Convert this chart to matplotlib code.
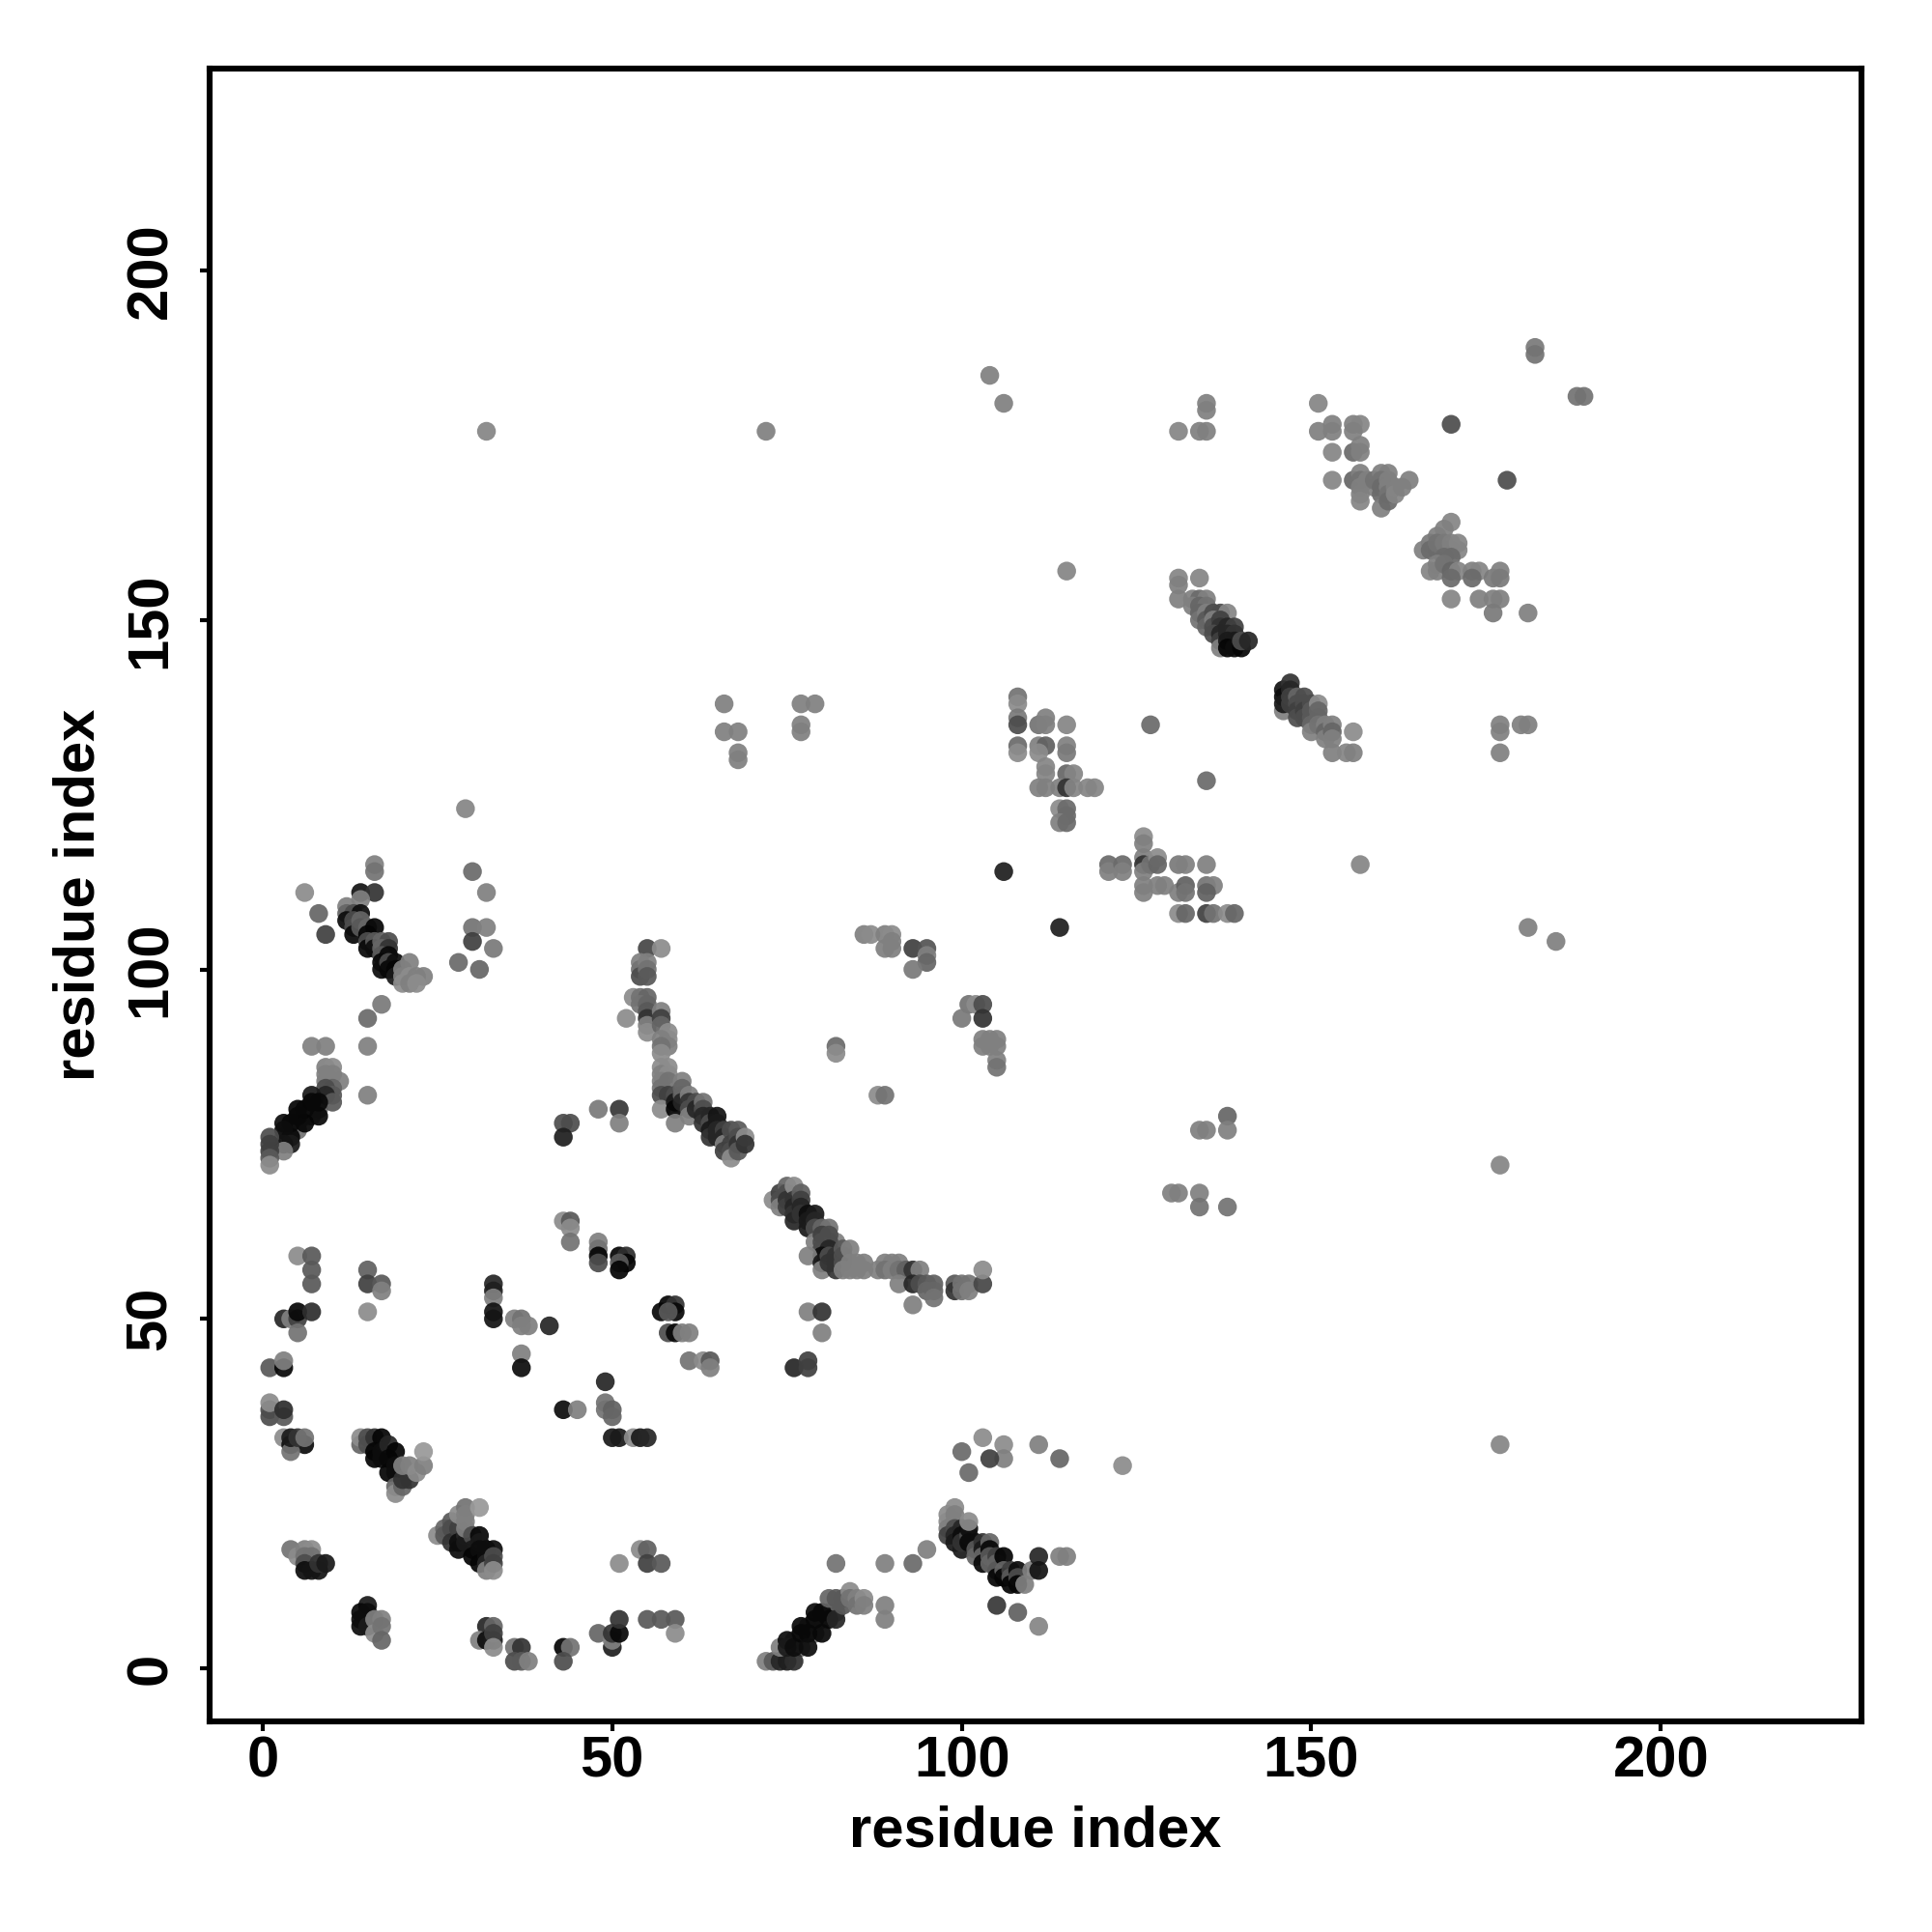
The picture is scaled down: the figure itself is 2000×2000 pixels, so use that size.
import matplotlib
matplotlib.use("Agg")
import matplotlib.pyplot as plt

plt.rcParams['font.family'] = ['Liberation Sans', 'DejaVu Sans']

# contacts: (residue x, residue y, grey level in %)
left_edge = [
    (5,59,55),(7,59,35),(7,57,35),(7,55,35),(3,50,15),(4,50,50),(5,50,25),(5,48,45),(5,51,3),(7,51,18),
    (1,43,35),(3,43,3),(3,44,50),(1,36,30),(1,37,30),(1,38,55),(3,36,35),(3,37,18),
    (3,33,55),(4,32,5),(6,32,5),(4,31,45),(4,33,10),(5,33,20),(6,33,45),
]
low_blob_a = [
    (14,32,40),(14,33,55),(15,33,30),(15,32,30),(16,33,20),(17,33,2),(16,31,2),(16,30,2),(17,31,5),(17,30,5),
    (18,32,15),(18,30,3),(18,28,2),(19,31,2),(19,29,5),(19,28,5),(19,26,40),(19,25,55),(20,26,40),(20,27,20),
    (21,27,20),(20,29,50),(21,29,50),(22,28,55),(23,29,50),(23,31,60),
]
low_blob_b = [
    (25,19,55),(26,20,40),(26,19,35),(27,21,35),(27,20,30),(27,18,20),(28,20,25),(28,18,5),(28,17,5),(28,22,55),
    (29,19,15),(29,18,10),(29,23,45),(29,22,50),(29,21,50),(29,20,50),(30,19,30),(30,17,10),(30,16,2),(31,19,3),
    (31,18,10),(31,17,5),(31,15,2),(31,23,60),(32,17,5),(32,16,5),(32,15,15),(32,14,50),(33,17,5),(33,16,30),
    (33,15,25),(33,14,55),
]
low_blob_c = [
    (4,17,45),(5,16,55),(6,17,50),(7,17,55),(6,16,45),(7,16,45),(6,15,30),(6,14,5),(7,14,8),(8,14,8),(8,15,20),(9,15,10),
    (15,9,10),(14,8,3),(15,8,5),(14,7,5),(14,6,5),(15,7,5),(15,6,10),(16,7,50),(16,5,55),(17,7,50),(17,6,45),(17,4,40),
    (32,6,15),(33,6,40),(31,4,50),(32,4,5),(33,4,10),(33,5,25),(33,3,55),
    (36,3,45),(37,3,20),(36,1,30),(37,1,35),(38,1,50),(43,3,2),(44,3,45),(43,1,30),
    (48,5,40),(50,3,12),(50,4,50),(50,5,20),(51,5,3),(51,7,20),(55,7,35),(57,7,35),(59,7,35),(59,5,55),
    (51,15,55),(54,17,55),(55,17,38),(55,15,25),(57,15,35),
]
middle_left = [
    (15,57,38),(15,55,25),(17,55,35),(17,54,50),(15,51,55),
    (43,37,5),(45,37,50),(49,41,15),(49,38,45),(49,37,45),(50,37,38),(50,36,40),
    (50,33,10),(51,33,10),(53,33,55),(54,33,10),(55,33,15),(37,45,50),(37,43,5),
    (33,55,15),(33,54,12),(33,53,50),(33,51,8),(33,50,8),(36,50,50),(37,50,45),(37,49,50),(38,49,50),(41,49,15),
    (43,64,55),(44,64,35),(44,63,55),(44,61,45),(48,61,50),(48,60,45),(48,59,2),(48,58,30),
    (51,59,2),(52,59,18),(52,58,2),(51,58,35),(51,57,2),
    (57,51,3),(58,52,2),(59,52,20),(59,51,3),(58,51,35),(58,48,30),(59,48,3),(60,48,50),(61,48,50),
    (61,44,45),(63,44,55),(64,44,35),(64,43,50),(76,43,15),(78,44,25),(78,43,25),(78,51,50),(80,51,20),(80,48,50),
]
low_right = [
    (103,33,55),(100,31,42),(106,32,55),(106,30,50),(104,30,25),(111,32,50),(101,28,42),(114,30,40),(123,29,55),
    (82,15,45),(89,15,50),(93,15,42),(95,17,50),
    (98,22,55),(99,23,55),(98,21,55),(99,22,50),(98,20,50),(99,21,50),(98,19,25),(99,20,30),(99,19,15),(100,20,15),
    (99,18,10),(100,19,5),(100,17,10),(100,18,20),(101,19,30),(101,18,3),(101,20,5),(101,21,55),(102,18,5),(102,17,35),
    (102,16,40),(103,18,20),(103,17,10),(103,16,40),(103,15,3),(104,18,40),(104,17,3),(104,16,35),(104,15,40),(105,16,25),
    (105,15,40),(105,14,35),(105,13,2),(106,16,2),(106,14,40),(106,13,2),(107,14,25),(107,13,35),(107,12,2),(108,14,5),
    (108,13,30),(108,12,2),(110,14,50),(109,12,50),(111,16,15),(111,14,8),(114,16,50),(115,16,50),
    (105,9,22),(108,8,38),(111,6,52),
]
low_mid = [
    (76,4,45),(77,3,45),(78,6,45),(79,5,45),(80,7,45),(81,8,40),(82,8,35),
    (72,1,50),(73,1,35),(74,1,15),(75,1,12),(76,1,18),(74,3,50),(75,4,5),(75,3,10),(76,3,5),
    (77,6,3),(77,5,3),(78,5,3),(78,3,5),(79,8,5),(79,7,3),(80,8,3),(80,5,3),
    (81,10,40),(81,7,3),(82,10,35),(82,7,15),(83,10,35),(83,9,35),(84,11,55),(84,10,45),
    (85,10,50),(85,9,45),(86,10,55),(86,9,50),(89,9,50),(89,7,50),
]
band_upper_left = [
    (16,115,50),(16,114,45),(6,111,55),(14,111,8),(16,111,20),(14,110,50),(8,108,40),(12,109,50),(12,108,40),(13,108,30),
    (14,108,5),(9,105,25),(12,107,5),(13,107,30),(13,106,30),(13,105,3),(14,107,40),(14,106,35),(15,106,40),(16,106,2),
    (15,105,2),(15,104,30),(15,103,3),(16,104,35),(16,103,5),(17,104,40),(18,104,30),(17,103,40),(18,103,20),(17,102,35),
    (18,102,3),(17,101,3),(17,100,5),(18,101,30),(18,100,3),(19,101,5),(19,100,2),(19,99,10),(20,100,50),(20,99,50),
    (21,101,50),(21,99,55),(22,99,50),(23,99,50),(20,98,55),(21,98,50),(22,98,55),
    (30,114,42),(32,111,50),(30,106,45),(32,106,50),(30,104,25),(33,103,48),(28,101,42),(31,100,40),
    (17,95,48),(15,93,42),(15,89,50),(7,89,50),(9,89,50),(15,82,50),
]
band_mid_left = [
    (8,80,45),(7,80,45),(7,79,45),(6,79,45),(5,78,45),(5,77,45),(4,77,45),(3,76,45),
    (9,86,50),(10,86,55),(9,85,50),(10,85,50),(9,84,50),(11,84,50),(10,83,40),(9,83,30),(10,82,35),(9,82,15),(10,81,35),
    (7,82,10),(8,81,3),(8,79,3),(7,81,3),(5,80,2),(6,80,3),(6,78,2),(5,79,3),
    (3,78,5),(4,78,3),(4,76,3),(3,77,5),(4,75,10),(3,75,8),(3,74,50),
    (1,76,30),(1,75,25),(1,74,25),(1,73,35),(1,72,55),
    (43,78,30),(44,78,30),(43,76,12),(48,80,48),(51,80,22),(51,78,50),(29,123,52),
]
centre_arc = [
    (55,103,28),(57,103,55),(54,101,50),(54,100,45),(54,99,30),(55,101,50),(55,100,45),(55,99,35),
    (53,96,55),(54,96,45),(55,96,40),(54,95,45),(55,95,40),(52,93,55),(55,94,35),(55,93,20),(55,92,50),(55,91,55),
    (57,94,50),(57,93,25),(57,92,40),(58,91,55),(58,90,55),(58,89,50),(57,90,50),(57,89,45),(57,88,55),
    (57,86,55),(58,86,55),(57,85,50),(58,85,55),(57,84,50),(58,84,45),(57,83,45),(57,82,30),(58,82,25),(57,80,55),
    (59,82,30),(59,81,10),(59,80,2),(60,84,50),(60,83,40),(60,82,40),(60,81,15),(59,78,50),(61,82,50),(61,81,20),
    (61,80,30),(61,79,50),(62,81,30),(62,80,15),(63,81,45),(63,80,30),(63,79,15),(63,78,20),(64,79,15),(64,78,30),
    (64,77,10),(64,76,20),(65,79,8),(65,78,10),(65,77,15),(65,76,15),(66,77,25),(66,76,15),(66,75,50),(66,74,25),
    (67,77,30),(67,75,25),(67,74,30),(67,73,55),(68,77,35),(68,76,30),(68,75,20),(68,74,35),(69,76,55),(69,75,20),
]
diag_low = [
    (73,67,55),(74,68,25),(74,67,30),(74,66,50),(75,69,40),(75,68,30),(75,67,20),(75,66,25),(76,69,55),(76,67,20),
    (76,66,15),(76,65,20),(76,64,15),(77,68,38),(77,67,25),(77,66,15),(77,65,20),(78,65,5),(78,64,10),(78,63,10),
    (79,65,10),(79,64,15),(79,63,30),(80,63,40),(81,63,45),(79,61,50),(82,61,50),(80,62,25),(80,61,30),(80,60,30),
    (81,62,30),(81,61,30),(81,60,15),(80,59,5),(78,59,50),(80,58,10),(80,57,50),(81,59,30),(81,58,20),(82,59,20),
    (82,58,20),(82,57,20),(83,60,35),(83,59,30),(83,58,30),(84,60,50),(84,58,50),(83,57,50),(84,57,50),(85,58,50),
    (85,57,50),(86,58,50),(86,57,50),(88,57,50),(89,58,50),(90,58,50),(91,58,50),(89,57,45),(90,57,50),(91,57,45),
    (92,57,38),(93,57,20),(94,57,50),(91,55,50),(93,55,15),(94,55,30),(95,55,35),(96,55,38),(95,54,40),(96,54,40),
    (96,53,45),(93,52,50),(99,55,35),(99,54,20),(100,55,45),(100,54,45),(101,55,45),(101,54,50),(103,55,28),(103,57,55),
]
upper_middle = [
    (86,105,50),(87,105,55),(89,105,50),(90,105,55),(89,103,50),(90,103,50),(90,104,50),
    (93,103,25),(95,103,33),(95,102,50),(95,101,40),(93,100,48),
    (101,95,45),(102,95,55),(103,95,30),(103,93,20),(100,93,48),
    (103,90,50),(103,89,50),(104,90,50),(104,89,50),(105,90,50),(105,89,50),(105,87,50),(105,86,45),
    (82,89,42),(82,88,55),(88,82,55),(89,82,45),
    (130,68,50),(131,68,50),(134,68,50),(134,66,45),(138,66,45),(134,77,50),(135,77,50),(138,79,40),(138,77,50),
    (177,72,52),(177,32,52),
]
block_108 = [
    (108,139,45),(108,138,55),(108,136,48),(108,135,30),(111,135,45),(112,136,50),(112,135,50),(115,135,52),
    (108,132,42),(108,131,55),(111,132,50),(112,132,38),(111,131,55),(115,132,50),(115,131,48),
    (112,129,52),(112,128,52),(115,128,40),(116,128,52),(111,126,50),(112,126,50),(114,126,50),(115,126,20),(116,126,52),
    (118,126,52),(119,126,52),(114,123,55),(115,123,42),(115,122,42),(114,121,50),(115,121,42),
    (135,127,42),(127,135,42),(106,114,12),(114,106,12),
]
block_126 = [
    (121,115,42),(121,114,50),(123,115,42),(123,114,50),(126,119,55),(126,118,50),(126,116,50),(126,115,20),(126,114,50),
    (127,115,45),(128,116,55),(128,115,40),(126,112,50),(126,111,50),(128,112,50),(129,112,50),
    (131,115,48),(132,115,50),(135,115,50),(131,111,50),(132,112,38),(132,111,45),(135,112,45),(136,112,50),(135,111,38),
    (131,108,55),(132,108,40),(135,108,25),(136,108,45),(138,108,55),(139,108,40),(157,115,52),
]
diag_146 = [
    (146,137,50),(146,140,8),(146,139,5),(146,138,10),(147,141,20),(147,140,15),(147,139,25),(147,138,25),(148,139,40),
    (149,139,30),(148,138,30),(148,137,25),(148,136,30),(149,138,30),(149,137,25),(149,136,30),(150,138,30),(150,137,35),
    (150,136,35),(150,135,40),(150,134,50),(151,138,55),(151,137,40),(151,136,40),(151,135,45),(152,135,50),(152,134,40),
    (152,133,50),(153,135,50),(153,134,40),(153,133,50),(153,131,50),(155,131,52),(156,131,50),(156,134,55),
]
diag_131 = [
    (131,156,52),(131,155,50),(131,153,50),(134,156,52),(133,153,50),(134,153,42),(135,153,50),(133,152,50),(134,152,40),
    (135,152,45),(134,151,40),(134,150,45),(135,151,50),(135,150,35),(135,149,40),(137,151,30),(136,151,30),(138,151,52),
    (136,150,50),(136,149,30),(137,150,25),(137,149,20),(136,148,30),(137,148,15),(137,147,25),(137,146,50),(138,149,15),
    (139,149,25),(138,148,15),(139,148,20),(138,147,10),(139,147,10),(138,146,2),(139,146,5),(140,146,2),(140,147,30),(141,147,15),
]
top_right = [
    (135,181,50),(135,180,50),(131,177,52),(134,177,50),(135,177,50),
    (151,181,52),(151,177,50),(153,178,50),(153,177,50),(156,178,50),(157,178,52),(156,177,50),(153,174,52),
    (156,174,42),(157,174,50),(157,175,50),(153,170,52),(156,170,40),(157,171,50),(157,170,45),(158,170,50),
    (157,169,50),(157,168,50),(157,167,52),(159,169,50),(159,170,45),(160,171,50),(161,171,50),(160,170,45),(160,169,42),
    (160,168,42),(160,166,50),(161,170,50),(161,169,50),(161,168,45),(161,167,42),(162,169,50),(162,168,52),(163,169,50),(164,170,50),
    (170,178,30),(178,170,30),
    (170,164,52),(169,163,50),(168,162,50),(167,161,48),(166,160,50),(167,160,42),(168,160,42),(168,161,45),(169,160,45),
    (169,161,48),(170,160,50),(170,161,50),(171,161,52),(171,160,52),(170,159,42),(169,159,42),(167,157,52),(168,158,50),(168,157,50),
    (169,158,45),(170,157,40),(171,157,52),(170,156,42),(173,157,50),(174,157,52),(173,156,42),(176,156,48),(177,157,50),(177,156,48),
    (170,153,52),(174,153,50),(176,153,50),(177,153,50),(176,151,48),(181,151,50),
    (182,189,48),(182,188,45),(188,182,45),(189,182,45),(177,135,50),(177,134,50),(177,131,50),(180,135,50),(181,135,50),
]
isolated = [
    (32,177,52),(72,177,50),(104,185,50),(106,181,50),(115,157,52),
    (66,138,50),(66,134,50),(68,134,50),(68,131,50),(68,130,50),(77,138,50),(79,138,50),(77,135,50),(77,134,50),
    (181,106,50),(185,104,50),
]

tick_values = [0, 50, 100, 150, 200]
axis_title = "residue index"

groups = [left_edge, low_blob_a, low_blob_b, low_blob_c, middle_left, low_right, low_mid, band_upper_left,
          band_mid_left, centre_arc, diag_low, upper_middle, block_108, block_126, diag_146, diag_131,
          top_right, isolated]

fig = plt.figure(figsize=(10, 10), dpi=200)
ax = fig.add_axes([217/2000, 1 - 1782/2000, (1927-217)/2000, (1782-71)/2000])

for group in groups:
    xs = [p[0] for p in group]
    ys = [p[1] for p in group]
    cols = [str(p[2] / 100) for p in group]
    ax.scatter(xs, ys, s=49, c=cols, linewidths=0, alpha=0.93, zorder=3)

ax.set_xlim(-7.6, 228.7)
ax.set_ylim(-7.6, 228.9)
ax.set_xticks(tick_values)
ax.set_yticks(tick_values)
ax.tick_params(length=3.6, width=1.5, labelsize=21.5)
ax.tick_params(axis='x', pad=1.6)
ax.tick_params(axis='y', pad=8.3)
for lab in ax.get_xticklabels() + ax.get_yticklabels():
    lab.set_fontweight('bold')
for lab in ax.get_yticklabels():
    lab.set_rotation(90)
    lab.set_verticalalignment('center')

ax.set_xlabel(axis_title, fontsize=21.5, fontweight='bold', labelpad=6)
ax.set_ylabel(axis_title, fontsize=21.5, fontweight='bold', labelpad=7.1)

for spine in ax.spines.values():
    spine.set_linewidth(2.2)
    spine.set_color('black')

fig.savefig("out.png", dpi=200)
